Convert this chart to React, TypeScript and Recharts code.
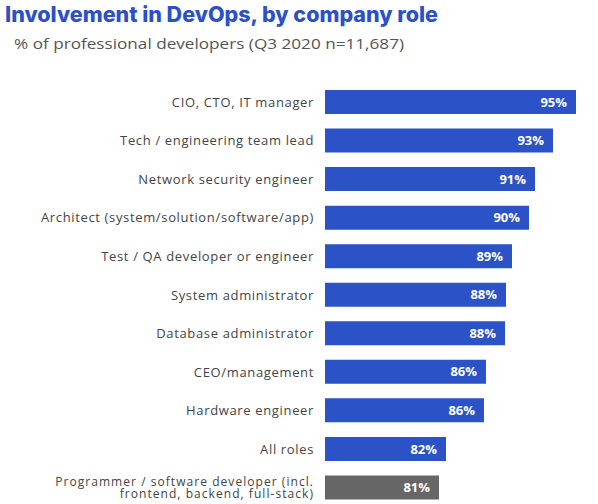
import { Bar, BarChart, Cell, LabelList, XAxis, YAxis } from "recharts";

const roles = [
  "CIO, CTO, IT manager",
  "Tech / engineering team lead",
  "Network security engineer",
  "Architect (system/solution/software/app)",
  "Test / QA developer or engineer",
  "System administrator",
  "Database administrator",
  "CEO/management",
  "Hardware engineer",
  "All roles",
  "Programmer / software developer (incl.\nfrontend, backend, full-stack)",
];
const shares = [95.1, 92.8, 91.0, 90.4, 88.7, 88.1, 88.0, 86.1, 85.9, 82.1, 81.4];
const highlight = [false, false, false, false, false, false, false, false, false, false, true];

const BLUE = "#2b52c6";
const GRAY = "#666666";

const data = roles.map((role, i) => ({ role, value: shares[i], grey: highlight[i] }));

function RoleTick(props: any) {
  const { x, y, payload } = props;
  const lines = String(payload.value).split("\n");
  const multi = lines.length > 1;
  const lh = 12.5;
  const first = -((lines.length - 1) * lh) / 2;
  return (
    <text
      x={x}
      y={y}
      textAnchor="end"
      fill="#444"
      fontSize={multi ? 12 : 13}
      letterSpacing={multi ? 1.05 : 0.65}
      fontFamily="'Open Sans', sans-serif"
    >
      {lines.map((line, i) => (
        <tspan key={i} x={x} y={y + first + i * lh} dy="0.35em">
          {line}
        </tspan>
      ))}
    </text>
  );
}

export default function App() {
  return (
    <div
      style={{
        position: "absolute",
        left: 0,
        top: 0,
        width: 598,
        height: 504,
        overflow: "hidden",
        background: "#fff",
        fontFamily: "'Open Sans', sans-serif",
      }}
    >
      <svg width={598} height={60} style={{ position: "absolute", left: 0, top: 0 }}>
        <text
          x={5}
          y={22}
          fill="#2c50c6"
          fontSize={21}
          fontWeight={800}
          fontFamily="Inter, sans-serif"
          textLength={433}
          lengthAdjust="spacingAndGlyphs"
        >
          Involvement in DevOps, by company role
        </text>
        <text x={14} y={49} fill="#555" fontSize={15} textLength={390} lengthAdjust="spacingAndGlyphs">
          % of professional developers (Q3 2020 n=11,687)
        </text>
      </svg>
      <BarChart
        width={598}
        height={508}
        data={data}
        layout="vertical"
        margin={{ top: 83, right: 13, bottom: 1, left: 0 }}
      >
        <XAxis type="number" domain={[70, 96]} hide />
        <YAxis
          type="category"
          dataKey="role"
          width={325}
          axisLine={false}
          tickLine={false}
          tickSize={0}
          tickMargin={11}
          interval={0}
          tick={<RoleTick />}
        />
        <Bar dataKey="value" barSize={24} isAnimationActive={false}>
          {data.map((d, i) => (
            <Cell key={i} fill={d.grey ? GRAY : BLUE} />
          ))}
          <LabelList
            dataKey="value"
            position="insideRight"
            offset={9}
            fill="#fff"
            fontSize={13}
            fontWeight={700}
            formatter={(v: any) => `${Math.round(Number(v))}%`}
          />
        </Bar>
      </BarChart>
    </div>
  );
}
